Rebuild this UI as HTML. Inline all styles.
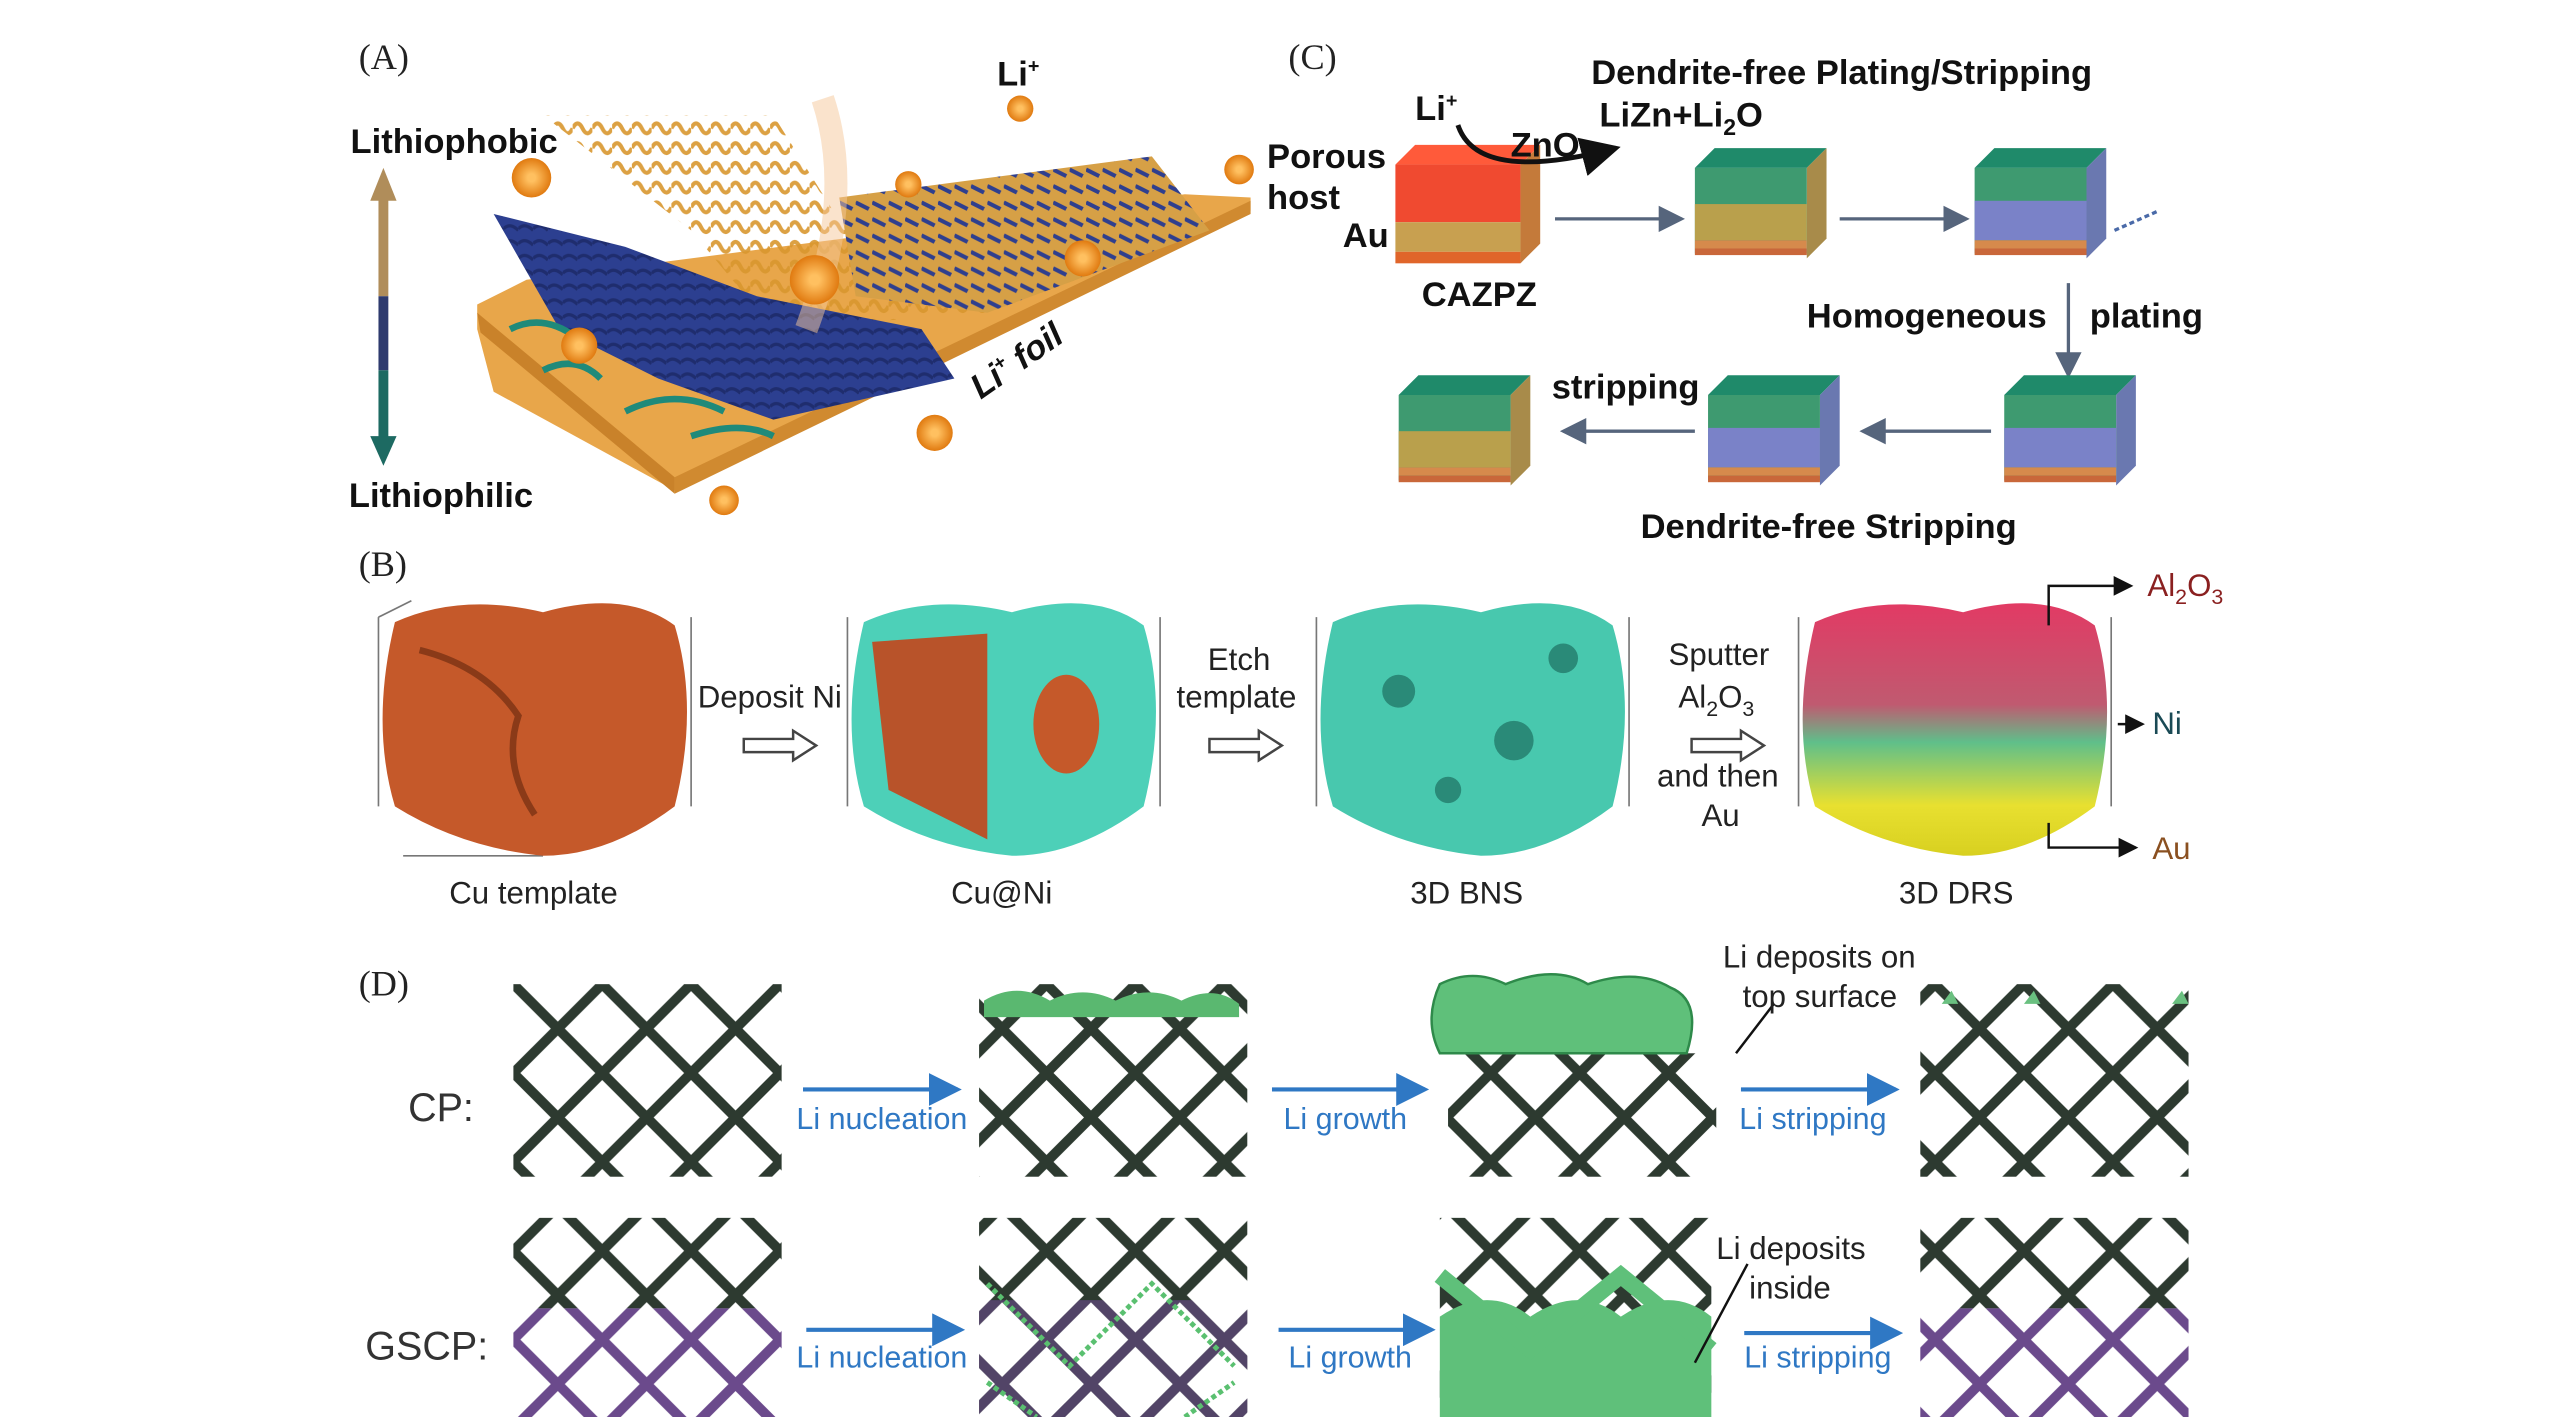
<!DOCTYPE html>
<html><head><meta charset="utf-8"><style>
html,body{margin:0;padding:0;background:#fff;}
svg{display:block;}
text{font-family:"Liberation Sans",sans-serif;}
.b{font-weight:bold;font-size:21px;fill:#111;}
.n{font-size:19px;fill:#222;}
.lab{font-family:"Liberation Serif",serif;font-size:22px;fill:#222;}
.blue{font-size:18.5px;fill:#2f78c4;}
</style></head><body>
<svg width="2567" height="1417" viewBox="0 0 1560 861" preserveAspectRatio="none" xmlns="http://www.w3.org/2000/svg">
<defs>
<marker id="ah" markerWidth="8" markerHeight="8" refX="7" refY="4" orient="auto"><path d="M0,0 L8,4 L0,8z" fill="#56657c"/></marker>
<marker id="ab" markerWidth="8" markerHeight="8" refX="7" refY="4" orient="auto"><path d="M0,0 L8,4 L0,8z" fill="#2f78c4"/></marker>
<marker id="ak" markerWidth="8" markerHeight="8" refX="7" refY="4" orient="auto"><path d="M0,0 L8,4 L0,8z" fill="#111"/></marker>
<pattern id="lat" x="312" y="598" width="54" height="54" patternUnits="userSpaceOnUse">
<path d="M0,0 L54,54 M54,0 L0,54" stroke="#2d3a30" stroke-width="6"/></pattern>
<pattern id="latp" x="312" y="598" width="54" height="54" patternUnits="userSpaceOnUse">
<path d="M0,0 L54,54 M54,0 L0,54" stroke="#6b4a8c" stroke-width="6"/></pattern>
<pattern id="fo" width="12" height="12" patternUnits="userSpaceOnUse"><path d="M0,6 Q3,0 6,6 T12,6" stroke="#d8962e" stroke-width="2.5" fill="none"/></pattern>
<pattern id="fb" width="10" height="10" patternUnits="userSpaceOnUse"><rect width="10" height="10" fill="#d6a046"/><path d="M0,3 L8,7" stroke="#2f3f8e" stroke-width="2.5"/></pattern>
<pattern id="fn" width="9" height="9" patternUnits="userSpaceOnUse"><rect width="9" height="9" fill="#2c3f90"/><path d="M0,4 Q4,0 9,5" stroke="#1f2d6e" stroke-width="2" fill="none"/></pattern>
<linearGradient id="drs" x1="0" y1="0" x2="0" y2="1"><stop offset="0" stop-color="#e23a64"/><stop offset="0.4" stop-color="#c05a70"/><stop offset="0.55" stop-color="#5fbf8a"/><stop offset="0.8" stop-color="#e8e030"/><stop offset="1" stop-color="#d8d020"/></linearGradient>
<radialGradient id="ball"><stop offset="0.2" stop-color="#ffc060"/><stop offset="1" stop-color="#e07a10"/></radialGradient>
<g id="blk">
<polygon points="0,12 12,0 80,0 68,12" fill="#1f8a6a"/>
<polygon points="68,12 80,0 80,55 68,67" fill="#a88b4a"/>
<rect x="0" y="12" width="68" height="52" fill="#3e9a70"/>
<rect x="0" y="34" width="68" height="22" fill="#b9a04c"/>
<rect x="0" y="56" width="68" height="5" fill="#d68a4c"/>
<rect x="0" y="61" width="68" height="4" fill="#c9673a"/>
</g>
<g id="blk2">
<polygon points="0,12 12,0 80,0 68,12" fill="#1f8a6a"/>
<polygon points="68,12 80,0 80,55 68,67" fill="#6a78b0"/>
<rect x="0" y="12" width="68" height="52" fill="#3e9a70"/>
<rect x="0" y="32" width="68" height="24" fill="#7a82c8"/>
<rect x="0" y="56" width="68" height="5" fill="#d68a4c"/>
<rect x="0" y="61" width="68" height="4" fill="#c9673a"/>
</g>
</defs>

<!-- Panel A -->
<text x="218" y="42" class="lab">(A)</text>
<rect x="230" y="120" width="6" height="60" fill="#b08d5a"/>
<rect x="230" y="180" width="6" height="45" fill="#2e3a6e"/>
<rect x="230" y="225" width="6" height="45" fill="#1d6a62"/>
<path d="M225,122 L233,102 L241,122z" fill="#b08d5a"/>
<path d="M225,265 L233,283 L241,265z" fill="#1d6a62"/>
<text x="213" y="93" class="b">Lithiophobic</text>
<text x="212" y="308" class="b">Lithiophilic</text>
<polygon points="290,185 320,170 720,118 760,120 760,128 410,298 300,238 290,200" fill="#e8a64a"/>
<polygon points="290,190 410,290 410,300 292,202" fill="#c9822a"/>
<polygon points="410,290 760,122 760,130 410,300" fill="#d08a30"/>
<polygon points="330,70 470,70 520,150 700,110 735,140 600,190 470,200 420,140" fill="url(#fo)" opacity="0.9"/>
<polygon points="510,120 700,95 735,140 600,190 520,180" fill="url(#fb)"/>
<polygon points="300,130 380,150 460,180 560,200 580,230 470,255 400,230 340,200" fill="url(#fn)"/>
<path d="M310,200 q20,-10 40,5 M330,225 q20,-10 35,5 M380,250 q30,-15 60,0 M420,265 q30,-10 50,0" stroke="#1f8a7a" stroke-width="4" fill="none"/>
<path d="M500,60 q20,60 -10,140" stroke="#f6c89a" stroke-width="14" fill="none" opacity="0.5"/>
<circle cx="323" cy="108" r="12" fill="url(#ball)"/>
<circle cx="620" cy="66" r="8" fill="url(#ball)"/>
<circle cx="552" cy="112" r="8" fill="url(#ball)"/>
<circle cx="495" cy="170" r="15" fill="url(#ball)"/>
<circle cx="658" cy="157" r="11" fill="url(#ball)"/>
<circle cx="352" cy="210" r="11" fill="url(#ball)"/>
<circle cx="568" cy="263" r="11" fill="url(#ball)"/>
<circle cx="440" cy="304" r="9" fill="url(#ball)"/>
<circle cx="753" cy="103" r="9" fill="url(#ball)"/>
<text x="606" y="52" class="b">Li<tspan font-size="12" dy="-8">+</tspan></text>
<text transform="translate(596,243) rotate(-35)" class="b" font-style="italic">Li<tspan font-size="12" dy="-8">+</tspan><tspan dy="8"> foil</tspan></text>

<!-- Panel C -->
<text x="783" y="42" class="lab">(C)</text>
<g transform="translate(848,88)">
<polygon points="0,12 12,0 88,0 76,12" fill="#ff5a3a"/>
<polygon points="76,12 88,0 88,60 76,72" fill="#c47a3a"/>
<rect x="0" y="12" width="76" height="35" fill="#f04a30"/>
<rect x="0" y="47" width="76" height="18" fill="#c8a050"/>
<rect x="0" y="65" width="76" height="7" fill="#e0652a"/>
</g>
<text x="967" y="51" class="b">Dendrite-free Plating/Stripping</text>
<text x="972" y="77" class="b">LiZn+Li<tspan font-size="14" dy="5">2</tspan><tspan dy="-5">O</tspan></text>
<text x="860" y="73" class="b">Li<tspan font-size="12" dy="-8">+</tspan></text>
<text x="918" y="95" class="b">ZnO</text>
<path d="M886,76 Q898,112 982,90" stroke="#111" stroke-width="3" fill="none" marker-end="url(#ak)"/>
<text x="770" y="102" class="b">Porous</text>
<text x="770" y="127" class="b">host</text>
<text x="816" y="150" class="b">Au</text>
<text x="864" y="186" class="b">CAZPZ</text>
<line x1="945" y1="133" x2="1022" y2="133" stroke="#56657c" stroke-width="2" marker-end="url(#ah)"/>
<use href="#blk" x="1030" y="90"/>
<line x1="1118" y1="133" x2="1195" y2="133" stroke="#56657c" stroke-width="2" marker-end="url(#ah)"/>
<use href="#blk2" x="1200" y="90"/>
<line x1="1285" y1="140" x2="1312" y2="128" stroke="#4a6aa8" stroke-width="2" stroke-dasharray="3,2"/>
<line x1="1257" y1="172" x2="1257" y2="228" stroke="#56657c" stroke-width="2" marker-end="url(#ah)"/>
<text x="1098" y="199" class="b">Homogeneous</text>
<text x="1270" y="199" class="b">plating</text>
<use href="#blk2" x="1218" y="228"/>
<line x1="1210" y1="262" x2="1132" y2="262" stroke="#56657c" stroke-width="2" marker-end="url(#ah)"/>
<use href="#blk2" x="1038" y="228"/>
<line x1="1030" y1="262" x2="950" y2="262" stroke="#56657c" stroke-width="2" marker-end="url(#ah)"/>
<use href="#blk" x="850" y="228"/>
<text x="943" y="242" class="b">stripping</text>
<text x="997" y="327" class="b">Dendrite-free Stripping</text>

<!-- Panel B -->
<text x="218" y="350" class="lab">(B)</text>
<g stroke="#777" stroke-width="1" fill="none">
<path d="M230,375 L230,490 M420,375 L420,490 M245,520 L330,520 M230,375 L250,365"/>
<path d="M515,375 L515,490 M705,375 L705,490"/>
<path d="M800,375 L800,490 M990,375 L990,490"/>
<path d="M1093,375 L1093,490 M1283,375 L1283,490"/>
</g>
<path d="M240,378 Q280,360 330,372 Q380,358 410,380 Q425,430 410,490 Q370,520 330,520 Q280,515 240,490 Q225,440 240,378z" fill="#c5592a"/>
<path d="M255,395 q40,10 60,40 q-10,30 10,60" stroke="#8a3a18" stroke-width="4" fill="none"/>
<path d="M525,378 Q565,360 615,372 Q665,358 695,380 Q710,430 695,490 Q655,520 615,520 Q565,515 525,490 Q510,440 525,378z" fill="#4dd0b8"/>
<path d="M530,390 L600,385 L600,510 L540,480z" fill="#b8532a"/>
<ellipse cx="648" cy="440" rx="20" ry="30" fill="#c5592a"/>
<path d="M810,378 Q850,360 900,372 Q950,358 980,380 Q995,430 980,490 Q940,520 900,520 Q850,515 810,490 Q795,440 810,378z" fill="#48c8ae"/>
<g fill="#2a8a78"><circle cx="850" cy="420" r="10"/><circle cx="920" cy="450" r="12"/><circle cx="880" cy="480" r="8"/><circle cx="950" cy="400" r="9"/></g>
<path d="M1103,378 Q1143,360 1193,372 Q1243,358 1273,380 Q1288,430 1273,490 Q1233,520 1193,520 Q1143,515 1103,490 Q1088,440 1103,378z" fill="url(#drs)"/>
<text x="424" y="430" class="n">Deposit Ni</text>
<text x="734" y="407" class="n">Etch</text>
<text x="715" y="430" class="n">template</text>
<text x="1014" y="404" class="n">Sputter</text>
<text x="1020" y="430" class="n">Al<tspan font-size="13" dy="5">2</tspan><tspan dy="-5">O</tspan><tspan font-size="13" dy="5">3</tspan></text>
<text x="1007" y="478" class="n">and then</text>
<text x="1034" y="502" class="n">Au</text>
<g stroke="#444" stroke-width="1.5" fill="#fff">
<path d="M452,449 h30 v-5 l14,9 l-14,9 v-5 h-30z"/>
<path d="M735,449 h30 v-5 l14,9 l-14,9 v-5 h-30z"/>
<path d="M1028,449 h30 v-5 l14,9 l-14,9 v-5 h-30z"/>
</g>
<text x="273" y="549" class="n">Cu template</text>
<text x="578" y="549" class="n">Cu@Ni</text>
<text x="857" y="549" class="n">3D BNS</text>
<text x="1154" y="549" class="n">3D DRS</text>
<path d="M1245,380 V356 H1295" stroke="#111" stroke-width="1.5" fill="none" marker-end="url(#ak)"/>
<line x1="1287" y1="440" x2="1302" y2="440" stroke="#111" stroke-width="1.5" marker-end="url(#ak)"/>
<path d="M1245,500 V515 H1298" stroke="#111" stroke-width="1.5" fill="none" marker-end="url(#ak)"/>
<text x="1305" y="362" class="n" style="fill:#8a2020">Al<tspan font-size="13" dy="5">2</tspan><tspan dy="-5">O</tspan><tspan font-size="13" dy="5">3</tspan></text>
<text x="1308" y="446" class="n" style="fill:#1a4a55">Ni</text>
<text x="1308" y="522" class="n" style="fill:#8a5020">Au</text>

<!-- Panel D -->
<text x="218" y="605" class="lab">(D)</text>
<text x="248" y="681" font-size="24" fill="#333">CP:</text>
<text x="222" y="826" font-size="24" fill="#333">GSCP:</text>
<rect x="312" y="598" width="163" height="117" fill="url(#lat)"/>
<rect x="595" y="598" width="163" height="117" fill="url(#lat)"/>
<rect x="880" y="640" width="163" height="75" fill="url(#lat)"/>
<rect x="1167" y="598" width="163" height="117" fill="url(#lat)"/>
<path d="M598,608 q20,-12 40,0 q20,-10 40,0 q20,-10 40,0 q20,-10 35,2 v8 h-155z" fill="#5ab870"/>
<path d="M875,598 q20,-10 40,0 q30,-12 50,0 q30,-10 50,2 q20,8 10,40 h-150 q-10,-20 0,-42z" fill="#5fc07a" stroke="#2e8a4a" stroke-width="1.5"/>
<g fill="#6ac080"><path d="M1180,610 l6,-8 l4,8z"/><path d="M1230,610 l6,-8 l4,8z"/><path d="M1320,610 l6,-8 l4,8z"/></g>
<line x1="1078" y1="610" x2="1055" y2="640" stroke="#111" stroke-width="1.5"/>
<text x="1047" y="588" class="n">Li deposits on</text>
<text x="1059" y="612" class="n">top surface</text>
<line x1="488" y1="662" x2="582" y2="662" stroke="#2f78c4" stroke-width="2.5" marker-end="url(#ab)"/>
<text x="484" y="686" class="blue">Li nucleation</text>
<line x1="773" y1="662" x2="866" y2="662" stroke="#2f78c4" stroke-width="2.5" marker-end="url(#ab)"/>
<text x="780" y="686" class="blue">Li growth</text>
<line x1="1058" y1="662" x2="1152" y2="662" stroke="#2f78c4" stroke-width="2.5" marker-end="url(#ab)"/>
<text x="1057" y="686" class="blue">Li stripping</text>

<rect x="312" y="740" width="163" height="55" fill="url(#lat)"/>
<rect x="312" y="795" width="163" height="66" fill="url(#latp)"/>
<rect x="595" y="740" width="163" height="121" fill="url(#lat)"/>
<rect x="595" y="790" width="163" height="71" fill="url(#latp)" opacity="0.6"/>
<g stroke="#5ac070" stroke-width="3" fill="none" stroke-dasharray="3,2"><path d="M600,780 L650,830 L700,780 L750,830 M600,840 L630,861 M720,861 L750,840"/></g>
<rect x="875" y="740" width="165" height="121" fill="url(#lat)"/>
<path d="M875,800 q30,-20 55,0 q30,-20 55,0 q30,-20 55,0 v61 h-165z" fill="#5fc07a"/>
<path d="M875,775 L930,820 L985,775 L1040,820" stroke="#5fc07a" stroke-width="10" fill="none"/>
<rect x="1167" y="740" width="163" height="55" fill="url(#lat)"/>
<rect x="1167" y="795" width="163" height="66" fill="url(#latp)"/>
<line x1="1062" y1="768" x2="1030" y2="828" stroke="#111" stroke-width="1.5"/>
<text x="1043" y="765" class="n">Li deposits</text>
<text x="1063" y="789" class="n">inside</text>
<line x1="490" y1="808" x2="584" y2="808" stroke="#2f78c4" stroke-width="2.5" marker-end="url(#ab)"/>
<text x="484" y="831" class="blue">Li nucleation</text>
<line x1="777" y1="808" x2="870" y2="808" stroke="#2f78c4" stroke-width="2.5" marker-end="url(#ab)"/>
<text x="783" y="831" class="blue">Li growth</text>
<line x1="1060" y1="810" x2="1154" y2="810" stroke="#2f78c4" stroke-width="2.5" marker-end="url(#ab)"/>
<text x="1060" y="831" class="blue">Li stripping</text>
</svg>
</body></html>
